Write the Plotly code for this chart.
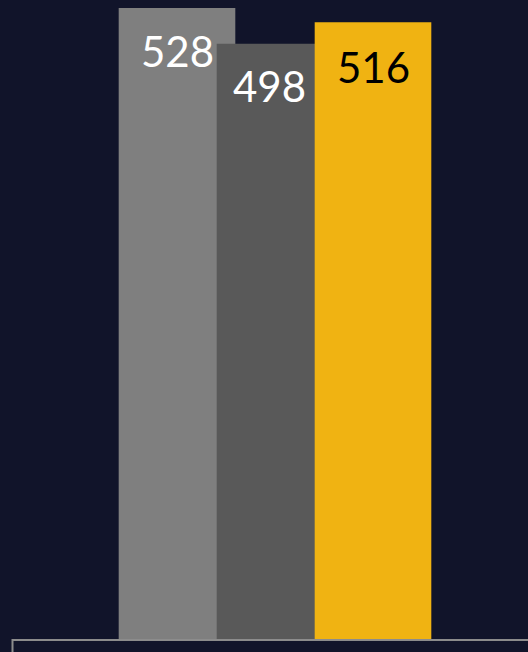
import plotly.graph_objects as go

categories = ["A", "B", "C"]
values = [528, 498, 516]
bar_colors = ["#7f7f7f", "#595959", "#f0b312"]
label_colors = ["#ffffff", "#ffffff", "#000000"]
label_xshift = [0, -6, 0]
label_yshift = [-16, -15, -18]

W, H = 528, 652
bg = "#11142a"

fig = go.Figure()
fig.add_trace(go.Bar(
    x=list(range(len(categories))),
    y=values,
    width=1.19,
    marker=dict(color=bar_colors, line=dict(width=0)),
    hoverinfo="skip",
))

for i, (v, c) in enumerate(zip(values, label_colors)):
    fig.add_annotation(
        x=i, y=v, xref="x", yref="y",
        text=str(v), showarrow=False,
        yanchor="top", yshift=label_yshift[i], xshift=label_xshift[i],
        font=dict(family="Lato, Open Sans, sans-serif", size=42, color=c),
    )

bottom_px = 639
fig.add_shape(
    type="rect", xref="paper", yref="paper",
    x0=12.5 / W, x1=1.05, y0=-0.2, y1=(H - 640) / H,
    line=dict(color="#8c8c8c", width=2), fillcolor="rgba(0,0,0,0)",
)

fig.update_layout(
    width=W, height=H,
    margin=dict(l=0, r=0, t=0, b=0),
    paper_bgcolor=bg, plot_bgcolor=bg,
    showlegend=False,
    xaxis=dict(visible=False, range=[-177 / 98, (528 - 177) / 98]),
    yaxis=dict(visible=False, range=[0, 639 / (631 / 528)],
               domain=[(H - bottom_px) / H, 1]),
)

fig.write_html(
    "out.html",
    config={"displayModeBar": False, "staticPlot": True},
    post_script="document.body.style.margin='0';document.body.style.overflow='hidden';document.body.style.background='" + bg + "';",
)
